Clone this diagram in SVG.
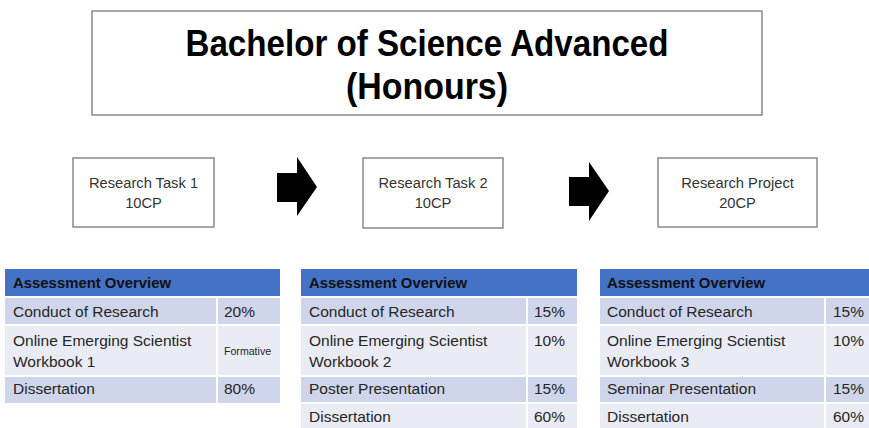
<svg xmlns="http://www.w3.org/2000/svg" width="869" height="428" viewBox="0 0 869 428">
  <style>
    .frame { fill: #ffffff; stroke: #8a8a8a; stroke-width: 1.5; }
    .title { font-family: "Liberation Sans", Arial, sans-serif; font-weight: bold; font-size: 37px; fill: #000000; text-anchor: middle; }
    .label { font-family: "Liberation Sans", Arial, sans-serif; font-size: 14.7px; fill: #333333; text-anchor: middle; }
    .arrow { fill: #000000; }
    .hdr { fill: #4472c4; }
    .band1 { fill: #cfd5ea; }
    .band2 { fill: #e9ebf5; }
    .sep { stroke: #ffffff; stroke-width: 2; }
    .hdrtxt { font-family: "Liberation Sans", Arial, sans-serif; font-weight: bold; font-size: 14.9px; fill: #111111; }
    .cell { font-family: "Liberation Sans", Arial, sans-serif; font-size: 15.5px; fill: #262626; }
    .small { font-family: "Liberation Sans", Arial, sans-serif; font-size: 10.6px; fill: #262626; }
  </style>

  <!-- Programme title -->
  <g id="title">
    <rect class="frame" x="92" y="11" width="670" height="104" stroke-width="2"/>
    <text class="title" x="427" y="56" textLength="483" lengthAdjust="spacingAndGlyphs">Bachelor of Science Advanced</text>
    <text class="title" x="427" y="99" textLength="162" lengthAdjust="spacingAndGlyphs">(Honours)</text>
  </g>

  <!-- Stage nodes -->
  <g id="task1">
    <rect class="frame" x="73" y="158" width="141" height="69"/>
    <text class="label" x="143.5" y="188">Research Task 1</text>
    <text class="label" x="143.5" y="208">10CP</text>
  </g>
  <g id="task2">
    <rect class="frame" x="363" y="158" width="140" height="70"/>
    <text class="label" x="433" y="188">Research Task 2</text>
    <text class="label" x="433" y="208">10CP</text>
  </g>
  <g id="project">
    <rect class="frame" x="658" y="158" width="159" height="69"/>
    <text class="label" x="737.5" y="188">Research Project</text>
    <text class="label" x="737.5" y="208">20CP</text>
  </g>

  <!-- Block arrows between stages -->
  <g id="connectors">
    <polygon class="arrow" points="277,173 297,173 297,157 317,187 297,216 297,202 277,202"/>
    <polygon class="arrow" points="569,177 589,177 589,162 609,191 589,221 589,206 569,206"/>
  </g>

  <!-- Assessment table: Research Task 1 -->
  <g id="table1">
    <rect class="hdr" x="5" y="269" width="275" height="28"/>
    <rect class="band1" x="5" y="297" width="275" height="28"/>
    <rect class="band2" x="5" y="325" width="275" height="51"/>
    <rect class="band1" x="5" y="376" width="275" height="27"/>
    <line class="sep" x1="5" y1="297" x2="280" y2="297"/>
    <line class="sep" x1="5" y1="325" x2="280" y2="325"/>
    <line class="sep" x1="5" y1="376" x2="280" y2="376"/>
    <line class="sep" x1="217" y1="297" x2="217" y2="403"/>
    <text class="hdrtxt" x="13" y="288">Assessment Overview</text>
    <text class="cell" x="13" y="317">Conduct of Research</text>
    <text class="cell" x="224" y="317">20%</text>
    <text class="cell" x="13" y="346">Online Emerging Scientist</text>
    <text class="cell" x="13" y="367">Workbook 1</text>
    <text class="small" x="224" y="355">Formative</text>
    <text class="cell" x="13" y="394">Dissertation</text>
    <text class="cell" x="224" y="394">80%</text>
  </g>

  <!-- Assessment table: Research Task 2 -->
  <g id="table2">
    <rect class="hdr" x="301" y="269" width="276" height="28"/>
    <rect class="band1" x="301" y="297" width="276" height="28"/>
    <rect class="band2" x="301" y="325" width="276" height="51"/>
    <rect class="band1" x="301" y="376" width="276" height="27"/>
    <rect class="band2" x="301" y="403" width="276" height="28"/>
    <line class="sep" x1="301" y1="297" x2="577" y2="297"/>
    <line class="sep" x1="301" y1="325" x2="577" y2="325"/>
    <line class="sep" x1="301" y1="376" x2="577" y2="376"/>
    <line class="sep" x1="301" y1="403" x2="577" y2="403"/>
    <line class="sep" x1="527" y1="297" x2="527" y2="431"/>
    <text class="hdrtxt" x="309" y="288">Assessment Overview</text>
    <text class="cell" x="309" y="317">Conduct of Research</text>
    <text class="cell" x="534" y="317">15%</text>
    <text class="cell" x="309" y="346">Online Emerging Scientist</text>
    <text class="cell" x="309" y="367">Workbook 2</text>
    <text class="cell" x="534" y="346">10%</text>
    <text class="cell" x="309" y="394">Poster Presentation</text>
    <text class="cell" x="534" y="394">15%</text>
    <text class="cell" x="309" y="422">Dissertation</text>
    <text class="cell" x="534" y="422">60%</text>
  </g>

  <!-- Assessment table: Research Project -->
  <g id="table3">
    <rect class="hdr" x="600" y="269" width="275" height="28"/>
    <rect class="band1" x="600" y="297" width="275" height="28"/>
    <rect class="band2" x="600" y="325" width="275" height="51"/>
    <rect class="band1" x="600" y="376" width="275" height="27"/>
    <rect class="band2" x="600" y="403" width="275" height="28"/>
    <line class="sep" x1="600" y1="297" x2="875" y2="297"/>
    <line class="sep" x1="600" y1="325" x2="875" y2="325"/>
    <line class="sep" x1="600" y1="376" x2="875" y2="376"/>
    <line class="sep" x1="600" y1="403" x2="875" y2="403"/>
    <line class="sep" x1="825" y1="297" x2="825" y2="431"/>
    <text class="hdrtxt" x="607" y="288">Assessment Overview</text>
    <text class="cell" x="607" y="317">Conduct of Research</text>
    <text class="cell" x="833" y="317">15%</text>
    <text class="cell" x="607" y="346">Online Emerging Scientist</text>
    <text class="cell" x="607" y="367">Workbook 3</text>
    <text class="cell" x="833" y="346">10%</text>
    <text class="cell" x="607" y="394">Seminar Presentation</text>
    <text class="cell" x="833" y="394">15%</text>
    <text class="cell" x="607" y="422">Dissertation</text>
    <text class="cell" x="833" y="422">60%</text>
  </g>
</svg>
